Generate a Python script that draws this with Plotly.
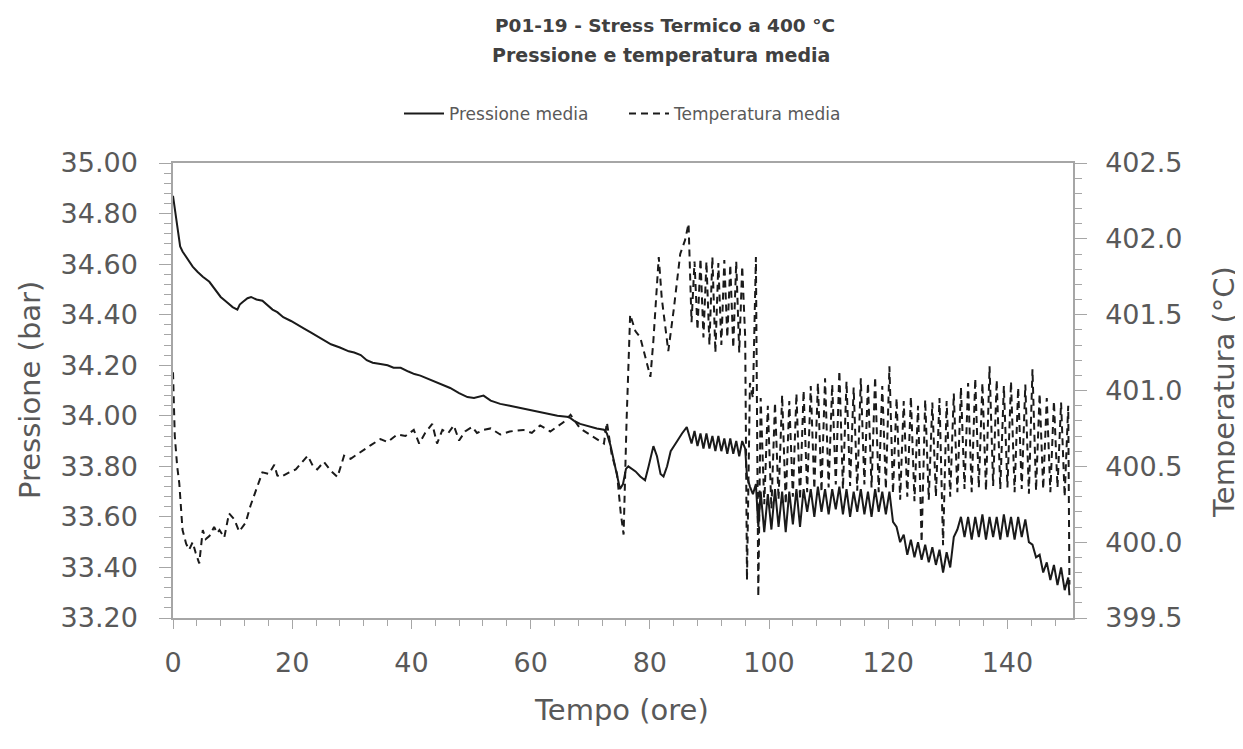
import plotly.graph_objects as go

# ---------------- data ----------------
# Pressione media (bar), first part
t_p_early = [0.0, 0.4, 0.8, 1.2, 1.6, 2.5, 3.3, 4.1, 5.0, 6.1, 7.0, 8.0, 9.0, 10.0, 10.8,
             11.2, 11.7, 12.5, 13.1, 14.0, 15.0, 16.0, 16.7, 17.5, 18.5, 19.8, 21.0, 22.0,
             23.1, 24.5, 25.5, 26.5, 28.0, 29.5, 30.4, 31.5, 32.5, 33.5, 34.8, 36.0, 37.0,
             38.2, 39.5, 40.5, 41.5, 43.0, 44.9, 46.5, 48.0, 49.4, 50.5, 52.1, 53.3, 54.9,
             56.5, 58.8, 60.5, 62.8, 64.5, 66.4, 67.3, 68.3, 69.5, 71.1, 72.3, 72.8, 73.4,
             74.0, 74.5, 75.0, 75.5, 76.0, 76.4, 77.0, 77.6, 78.4, 79.2, 79.8, 80.6, 81.2,
             81.8, 82.3, 82.9, 83.5, 84.0, 84.6, 85.4, 86.2]
p_early = [34.87, 34.80, 34.72, 34.67, 34.65, 34.62, 34.59, 34.57, 34.55, 34.53, 34.50, 34.47,
           34.45, 34.43, 34.42, 34.44, 34.45, 34.465, 34.47, 34.46, 34.455, 34.435, 34.42,
           34.41, 34.39, 34.375, 34.36, 34.345, 34.33, 34.31, 34.295, 34.283, 34.27, 34.255,
           34.25, 34.24, 34.22, 34.21, 34.205, 34.20, 34.19, 34.19, 34.175, 34.165, 34.159,
           34.145, 34.126, 34.11, 34.09, 34.074, 34.07, 34.08, 34.06, 34.047, 34.04, 34.028,
           34.02, 34.008, 34.00, 33.995, 33.98, 33.968, 33.96, 33.95, 33.945, 33.93, 33.883,
           33.82, 33.77, 33.71, 33.73, 33.79, 33.80, 33.79, 33.78, 33.76, 33.745, 33.80,
           33.88, 33.84, 33.77, 33.76, 33.80, 33.86, 33.88, 33.90, 33.93, 33.955]

# Temperatura media (°C), first part
t_T_early = [0.0, 0.3, 0.7, 1.05, 1.6, 2.2, 2.7, 3.3, 3.8, 4.4, 5.0, 5.5, 6.1, 6.9, 7.4, 7.8,
             8.6, 9.4, 10.3, 11.1, 12.2, 13.0, 13.9, 15.0, 16.1, 17.0, 17.5, 18.1, 19.5, 20.6,
             21.5, 22.6, 23.5, 24.2, 25.3, 26.5, 27.6, 28.7, 29.8, 30.9, 32.0, 33.2, 34.8,
             36.0, 37.6, 39.0, 40.4, 41.3, 42.3, 43.5, 44.3, 45.2, 46.2, 47.1, 48.0, 49.0,
             50.2, 51.0, 52.1, 53.3, 54.9, 56.5, 58.8, 60.2, 61.6, 63.3, 65.5, 66.7, 68.3,
             70.6, 72.3, 72.8, 73.6, 74.5, 75.1, 75.6, 76.1, 76.7, 77.6, 78.4, 79.2, 80.1,
             80.6, 81.5, 82.0, 83.1, 84.0, 85.1, 85.9, 86.5]
T_early = [401.12, 400.70, 400.50, 400.39, 400.08, 399.99, 399.95, 400.00, 399.93, 399.86,
           400.08, 400.02, 400.04, 400.10, 400.06, 400.08, 400.03, 400.19, 400.15, 400.07,
           400.13, 400.24, 400.34, 400.46, 400.45, 400.51, 400.44, 400.43, 400.46, 400.48,
           400.52, 400.57, 400.50, 400.48, 400.53, 400.47, 400.43, 400.57, 400.55, 400.58,
           400.61, 400.64, 400.68, 400.66, 400.71, 400.70, 400.74, 400.65, 400.72, 400.78,
           400.65, 400.74, 400.72, 400.77, 400.67, 400.73, 400.76, 400.72, 400.74, 400.75,
           400.71, 400.73, 400.74, 400.72, 400.77, 400.73, 400.79, 400.84, 400.75, 400.69,
           400.65, 400.79, 400.58, 400.45, 400.20, 400.05, 400.80, 401.50, 401.39, 401.35,
           401.22, 401.09, 401.33, 401.88, 401.61, 401.26, 401.53, 401.90, 401.99, 402.10]

# Cycling part (shared time base for both series)
t_cycles = [87.0, 87.5, 88.0, 88.5, 89.0, 89.5, 90.0, 90.5, 91.0, 91.5, 92.0, 92.5, 93.0,
            93.5, 94.0, 94.5, 95.0, 95.5, 96.0, 96.3, 96.8, 97.3, 97.8, 98.2,
            98.6, 99.2, 99.8, 100.4, 101.0, 101.6, 102.2, 102.8, 103.4, 104.0, 104.6, 105.2,
            105.8, 106.4, 107.0, 107.6, 108.2, 108.8, 109.4, 110.0, 110.6, 111.2, 111.8,
            112.4, 113.0, 113.6, 114.2, 114.8, 115.4, 116.0, 116.6, 117.2, 117.8, 118.4,
            119.0, 119.6, 120.2, 120.8, 121.4, 122.0, 122.6, 123.2, 123.8, 124.4, 125.0,
            125.6, 126.2, 126.8, 127.4, 128.0, 128.6, 129.2, 129.8, 130.4, 131.0, 131.6,
            132.2, 132.8, 133.4, 134.0, 134.6, 135.2, 135.8, 136.4, 137.0, 137.6, 138.2,
            138.8, 139.4, 140.0, 140.6, 141.2, 141.8, 142.4, 143.0, 143.6, 144.2, 144.8,
            145.4, 146.0, 146.6, 147.2, 147.8, 148.4, 149.0, 149.6, 150.2, 150.4]
T_cycles = [401.45, 401.85, 401.40, 401.87, 401.35, 401.85, 401.30, 401.88, 401.25, 401.84,
            401.30, 401.86, 401.35, 401.83, 401.28, 401.85, 401.25, 401.82, 401.35, 399.75,
            401.05, 400.95, 401.88, 399.64,
            400.95, 400.25, 400.90, 400.22, 400.92, 400.28, 400.97, 400.25, 400.93, 400.30,
            400.98, 400.28, 401.00, 400.33, 401.03, 400.35, 401.05, 400.33, 401.08, 400.36,
            401.04, 400.38, 401.13, 400.35, 401.06, 400.37, 401.02, 400.34, 401.08, 400.38,
            401.05, 400.36, 401.09, 400.33, 401.03, 400.35, 401.16, 400.32, 400.95, 400.28,
            400.93, 400.30, 400.96, 400.27, 400.90, 400.00, 400.94, 400.28, 400.92, 400.30,
            400.95, 399.98, 400.93, 400.30, 400.98, 400.33, 401.02, 400.35, 401.05, 400.33,
            401.08, 400.36, 401.05, 400.34, 401.16, 400.37, 401.07, 400.35, 401.03, 400.36,
            401.06, 400.33, 401.02, 400.35, 401.04, 400.32, 401.14, 400.34, 400.98, 400.35,
            400.95, 400.33, 400.93, 400.36, 400.92, 400.30, 400.90, 399.72]
p_cycles = [33.89, 33.94, 33.88, 33.93, 33.87, 33.93, 33.87, 33.92, 33.86, 33.92, 33.86,
            33.91, 33.85, 33.91, 33.85, 33.90, 33.84, 33.90, 33.87, 33.76, 33.72, 33.69,
            33.73, 33.56,
            33.70, 33.54, 33.69, 33.55, 33.71, 33.56, 33.70, 33.54, 33.70, 33.57, 33.71,
            33.56, 33.71, 33.62, 33.71, 33.60, 33.72, 33.62, 33.71, 33.61, 33.71, 33.63,
            33.72, 33.61, 33.71, 33.60, 33.70, 33.62, 33.71, 33.61, 33.70, 33.60, 33.71,
            33.62, 33.70, 33.61, 33.70, 33.58, 33.56, 33.50, 33.53, 33.45, 33.51, 33.44,
            33.50, 33.43, 33.49, 33.42, 33.48, 33.41, 33.47, 33.38, 33.46, 33.40, 33.52,
            33.55, 33.60, 33.52, 33.60, 33.51, 33.60, 33.52, 33.61, 33.51, 33.60, 33.52,
            33.60, 33.51, 33.61, 33.52, 33.60, 33.51, 33.60, 33.52, 33.59, 33.50, 33.49,
            33.44, 33.45, 33.38, 33.42, 33.35, 33.41, 33.33, 33.40, 33.31, 33.36, 33.29]

x_ticks = [0, 20, 40, 60, 80, 100, 120, 140]
title_lines = ["P01-19 - Stress Termico a 400 °C", "Pressione e temperatura media"]

# ---------------- figure ----------------
FONT = "DejaVu Sans"
TXT = "#595959"
AX = "#a6a6a6"
OFF = 8                       # default page margin of the html body
W, H = 1243 - OFF, 749 - OFF  # figure fits the window after the page margin
# plot area in window pixels: x 173..1073, y 163..618
L, T = 173 - OFF, 163 - OFF
R, B = W - (1073 - OFF), H - (618 - OFF)
PW, PH = W - L - R, H - T - B


def px_x(xw):
    """window x pixel -> paper x"""
    return (xw - OFF - L) / PW


def px_y(yw):
    """window y pixel -> paper y"""
    return 1 - (yw - OFF - T) / PH


fig = go.Figure()
fig.add_trace(go.Scatter(
    x=t_p_early + t_cycles, y=p_early + p_cycles, name="Pressione media",
    mode="lines", line=dict(color="#1a1a1a", width=2)))
fig.add_trace(go.Scatter(
    x=t_T_early + t_cycles, y=T_early + T_cycles, name="Temperatura media",
    mode="lines", line=dict(color="#1a1a1a", width=2, dash="7px,5px"), yaxis="y2"))

tickfont = dict(family=FONT, size=27, color=TXT)
titlefont = dict(family=FONT, size=29, color=TXT)

fig.update_layout(
    width=W, height=H,
    paper_bgcolor="white", plot_bgcolor="white",
    margin=dict(l=L, r=R, t=T, b=B, autoexpand=False),
    font=dict(family=FONT, color=TXT),
    showlegend=True,
    legend=dict(orientation="h", x=px_x(624), xanchor="center", y=px_y(114),
                yanchor="middle", font=dict(family=FONT, size=17, color=TXT), itemwidth=40,
                entrywidth=170, entrywidthmode="pixels",
                bgcolor="rgba(0,0,0,0)"),
    xaxis=dict(range=[0, 151], tickvals=x_ticks, showgrid=False, zeroline=False,
               showline=True, linecolor=AX, linewidth=1.5, mirror=True, automargin=False,
               ticks="outside", ticklen=9, tickcolor=AX, tickwidth=1,
               minor=dict(ticks="outside", dtick=4, ticklen=6, tickcolor=AX),
               tickfont=tickfont, ticklabelstandoff=11),
    yaxis=dict(range=[33.2, 35.0], dtick=0.2, tickformat=".2f", showgrid=False,
               zeroline=False, showline=True, linecolor=AX, linewidth=1.5, automargin=False,
               ticks="outside", ticklen=12, tickcolor=AX, tickwidth=1,
               minor=dict(ticks="outside", dtick=0.04, ticklen=7, tickcolor=AX),
               tickfont=tickfont, ticklabelstandoff=16),
    yaxis2=dict(range=[399.5, 402.5], dtick=0.5, tickformat=".1f", overlaying="y",
                side="right", showgrid=False, zeroline=False, showline=True, automargin=False,
                linecolor=AX, linewidth=1.5, ticks="outside", ticklen=12, tickcolor=AX,
                tickwidth=1, minor=dict(ticks="outside", dtick=0.1, ticklen=7, tickcolor=AX),
                tickfont=tickfont, ticklabelstandoff=13),
    annotations=[
        dict(text="<b>" + title_lines[0] + "</b>", xref="paper", yref="paper",
             x=px_x(665), y=px_y(26), xanchor="center", yanchor="middle",
             showarrow=False, font=dict(family=FONT, size=18.5, color="#404040")),
        dict(text="<b>" + title_lines[1] + "</b>", xref="paper", yref="paper",
             x=px_x(661), y=px_y(55), xanchor="center", yanchor="middle",
             showarrow=False, font=dict(family=FONT, size=19, color="#404040")),
        dict(text="Pressione (bar)", xref="paper", yref="paper", x=px_x(30), y=px_y(390),
             xanchor="center", yanchor="middle", textangle=-90, showarrow=False,
             font=titlefont),
        dict(text="Temperatura (°C)", xref="paper", yref="paper", x=px_x(1224),
             y=px_y(392), xanchor="center", yanchor="middle", textangle=-90,
             showarrow=False, font=titlefont),
        dict(text="Tempo (ore)", xref="paper", yref="paper", x=px_x(621), y=px_y(710),
             xanchor="center", yanchor="middle", showarrow=False, font=titlefont),
    ],
)

fig.write_html("out.html")
